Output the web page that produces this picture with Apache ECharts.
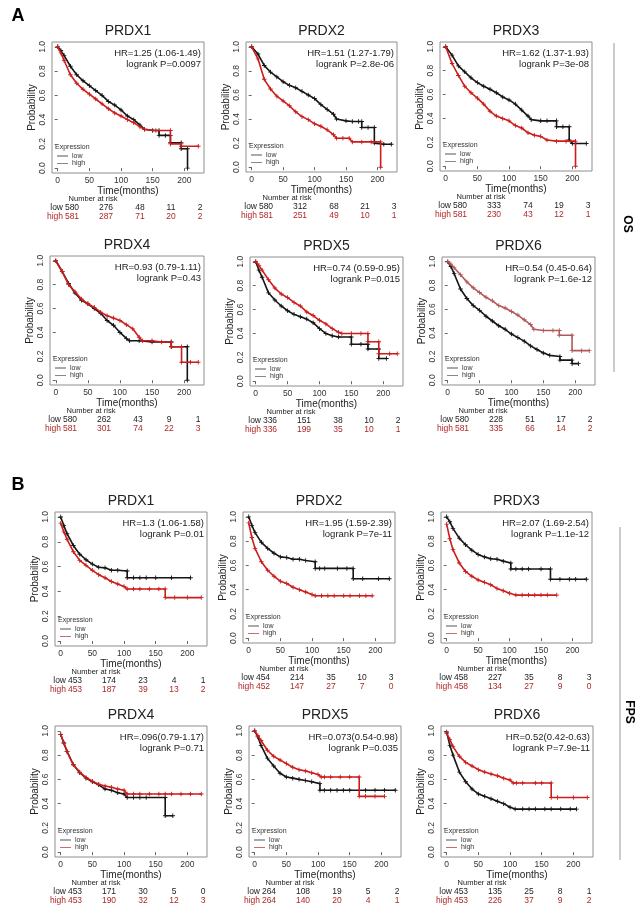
<!DOCTYPE html>
<html>
<head>
<meta charset="utf-8">
<title>PRDX survival</title>
<script src="https://cdn.jsdelivr.net/npm/echarts@6.0.0/dist/echarts.min.js"></script>
<style>
  html, body { margin: 0; padding: 0; background: #fff; }
  #chart { width: 644px; height: 918px; }
</style>
</head>
<body>
<div id="chart"></div>
<script>
// 1. Data
const genes = ['PRDX1', 'PRDX2', 'PRDX3', 'PRDX4', 'PRDX5', 'PRDX6'];
const timeTicks = [0, 50, 100, 150, 200];
const probTicks = [0, 0.2, 0.4, 0.6, 0.8, 1];

const osHR = ['HR=1.25 (1.06-1.49)', 'HR=1.51 (1.27-1.79)', 'HR=1.62 (1.37-1.93)',
              'HR=0.93 (0.79-1.11)', 'HR=0.74 (0.59-0.95)', 'HR=0.54 (0.45-0.64)'];
const osP = ['logrank P=0.0097', 'logrank P=2.8e-06', 'logrank P=3e-08',
             'logrank P=0.43', 'logrank P=0.015', 'logrank P=1.6e-12'];
const fpsHR = ['HR=1.3 (1.06-1.58)', 'HR=1.95 (1.59-2.39)', 'HR=2.07 (1.69-2.54)',
               'HR=.096(0.79-1.17)', 'HR=0.073(0.54-0.98)', 'HR=0.52(0.42-0.63)'];
const fpsP = ['logrank P=0.01', 'logrank P=7e-11', 'logrank P=1.1e-12',
              'logrank P=0.71', 'logrank P=0.035', 'logrank P=7.9e-11'];

// number at risk at 0, 50, 100, 150, 200 months
const osRiskLow = [[580, 276, 48, 11, 2], [580, 312, 68, 21, 3], [580, 333, 74, 19, 3],
                   [580, 262, 43, 9, 1], [336, 151, 38, 10, 2], [580, 228, 51, 17, 2]];
const osRiskHigh = [[581, 287, 71, 20, 2], [581, 251, 49, 10, 1], [581, 230, 43, 12, 1],
                    [581, 301, 74, 22, 3], [336, 199, 35, 10, 1], [581, 335, 66, 14, 2]];
const fpsRiskLow = [[453, 174, 23, 4, 1], [454, 214, 35, 10, 3], [458, 227, 35, 8, 3],
                    [453, 171, 30, 5, 0], [264, 108, 19, 5, 2], [453, 135, 25, 8, 1]];
const fpsRiskHigh = [[453, 187, 39, 13, 2], [452, 147, 27, 7, 0], [458, 134, 27, 9, 0],
                     [453, 190, 32, 12, 3], [264, 140, 20, 4, 1], [453, 226, 37, 9, 2]];

// survival curves [months, probability]
const osLow = [
  [[0,1],[5,0.97],[10,0.93],[20,0.84],[30,0.77],[40,0.72],[50,0.68],[60,0.64],[70,0.60],[80,0.55],[90,0.52],[100,0.48],[110,0.43],[120,0.40],[130,0.355],[137,0.32],[150,0.31],[160,0.31],[160,0.27],[170,0.27],[178,0.27],[178,0.21],[195,0.21],[195,0.16],[205,0.16],[205,0]],
  [[0,1],[10,0.94],[20,0.845],[30,0.79],[40,0.75],[50,0.71],[60,0.68],[70,0.66],[80,0.63],[90,0.60],[100,0.57],[110,0.52],[120,0.48],[130,0.44],[135,0.40],[150,0.385],[160,0.38],[170,0.38],[175,0.38],[175,0.33],[185,0.33],[195,0.33],[195,0.20],[210,0.19],[222,0.19]],
  [[0,1],[10,0.93],[20,0.84],[30,0.79],[40,0.74],[50,0.70],[60,0.67],[70,0.645],[80,0.615],[90,0.58],[100,0.555],[110,0.52],[120,0.47],[130,0.42],[135,0.39],[150,0.38],[160,0.38],[175,0.38],[175,0.33],[185,0.33],[195,0.33],[195,0.22],[200,0.19],[222,0.19]],
  [[0,1],[10,0.91],[20,0.81],[30,0.73],[40,0.67],[50,0.64],[60,0.60],[70,0.56],[80,0.50],[90,0.46],[100,0.40],[110,0.35],[115,0.33],[130,0.33],[150,0.32],[180,0.32],[180,0.28],[205,0.28],[205,0]],
  [[0,1],[5,0.93],[10,0.87],[20,0.74],[30,0.68],[40,0.63],[50,0.59],[60,0.56],[70,0.54],[80,0.52],[90,0.49],[100,0.44],[110,0.40],[120,0.38],[130,0.37],[150,0.37],[150,0.31],[165,0.31],[176,0.31],[176,0.27],[193,0.27],[193,0.19],[205,0.19]],
  [[0,1],[5,0.96],[10,0.90],[20,0.77],[30,0.69],[40,0.63],[50,0.59],[60,0.54],[70,0.50],[80,0.46],[90,0.43],[100,0.39],[110,0.36],[120,0.33],[130,0.29],[140,0.26],[150,0.23],[160,0.21],[176,0.20],[176,0.17],[195,0.17],[195,0.14],[205,0.14]]
];
const osHigh = [
  [[0,1],[5,0.95],[10,0.89],[20,0.77],[30,0.70],[40,0.65],[50,0.61],[60,0.57],[70,0.53],[80,0.49],[90,0.455],[100,0.43],[110,0.40],[120,0.375],[130,0.34],[137,0.32],[155,0.31],[178,0.31],[178,0.20],[195,0.20],[195,0.18],[222,0.18]],
  [[0,1],[10,0.90],[20,0.73],[30,0.65],[40,0.59],[50,0.55],[60,0.51],[70,0.46],[80,0.42],[90,0.395],[100,0.36],[110,0.34],[120,0.31],[130,0.27],[135,0.24],[145,0.24],[155,0.24],[160,0.21],[175,0.21],[190,0.21],[205,0.21],[205,0]],
  [[0,1],[10,0.86],[20,0.76],[30,0.67],[40,0.615],[50,0.57],[60,0.52],[70,0.46],[80,0.42],[90,0.40],[100,0.38],[110,0.34],[120,0.32],[130,0.28],[140,0.26],[150,0.25],[160,0.22],[175,0.21],[190,0.21],[205,0.21],[205,0]],
  [[0,1],[10,0.91],[20,0.80],[30,0.74],[40,0.68],[50,0.64],[60,0.61],[70,0.57],[80,0.54],[90,0.52],[100,0.50],[110,0.465],[120,0.43],[130,0.36],[135,0.33],[150,0.33],[165,0.32],[180,0.32],[180,0.28],[196,0.28],[196,0.15],[210,0.15],[222,0.15]],
  [[0,1],[5,0.97],[10,0.93],[20,0.85],[30,0.78],[40,0.73],[50,0.70],[60,0.66],[70,0.63],[80,0.58],[90,0.55],[100,0.51],[110,0.48],[120,0.44],[130,0.41],[135,0.40],[150,0.40],[165,0.40],[176,0.40],[176,0.33],[193,0.33],[193,0.23],[210,0.23],[222,0.23]],
  [[0,1],[5,0.98],[10,0.95],[20,0.89],[30,0.83],[40,0.78],[50,0.74],[60,0.70],[70,0.67],[80,0.63],[90,0.61],[100,0.58],[110,0.55],[120,0.51],[130,0.47],[135,0.43],[150,0.42],[165,0.42],[175,0.42],[175,0.38],[195,0.38],[195,0.25],[210,0.25],[222,0.25]]
];
const fpsLow = [
  [[0,1],[5,0.93],[10,0.865],[20,0.77],[30,0.70],[40,0.655],[50,0.62],[60,0.595],[70,0.59],[80,0.57],[90,0.57],[105,0.565],[105,0.51],[115,0.51],[125,0.51],[135,0.51],[150,0.51],[175,0.51],[205,0.51]],
  [[0,1],[5,0.93],[10,0.87],[20,0.79],[30,0.74],[40,0.70],[50,0.67],[60,0.665],[70,0.65],[80,0.65],[90,0.64],[105,0.63],[105,0.575],[112,0.575],[120,0.575],[140,0.575],[155,0.575],[165,0.575],[165,0.49],[180,0.49],[205,0.49],[222,0.49]],
  [[0,1],[5,0.96],[10,0.905],[20,0.825],[30,0.77],[40,0.725],[50,0.69],[60,0.67],[70,0.655],[80,0.65],[90,0.635],[102,0.62],[102,0.57],[110,0.57],[120,0.57],[130,0.57],[150,0.57],[165,0.57],[165,0.485],[180,0.485],[195,0.485],[205,0.485],[222,0.485]],
  [[0,0.97],[5,0.90],[10,0.83],[20,0.72],[30,0.655],[40,0.61],[50,0.58],[60,0.555],[70,0.52],[80,0.51],[90,0.49],[100,0.48],[105,0.45],[115,0.45],[125,0.45],[135,0.45],[165,0.45],[165,0.30],[177,0.30]],
  [[0,1],[5,0.95],[10,0.88],[20,0.775],[30,0.71],[40,0.65],[50,0.62],[60,0.61],[70,0.60],[80,0.59],[90,0.58],[103,0.565],[103,0.51],[110,0.51],[120,0.51],[130,0.51],[140,0.51],[150,0.51],[175,0.51],[190,0.51],[205,0.51],[222,0.51]],
  [[0,0.99],[5,0.88],[10,0.80],[20,0.66],[30,0.58],[40,0.52],[50,0.48],[60,0.46],[70,0.44],[80,0.42],[90,0.40],[100,0.37],[108,0.355],[120,0.355],[130,0.355],[140,0.355],[155,0.355],[165,0.355],[180,0.355],[195,0.355],[205,0.355]]
];
const fpsHigh = [
  [[0,0.95],[5,0.88],[10,0.82],[20,0.72],[30,0.65],[40,0.61],[50,0.57],[60,0.535],[70,0.51],[80,0.48],[90,0.46],[100,0.44],[105,0.42],[115,0.42],[125,0.42],[140,0.42],[155,0.42],[165,0.42],[165,0.35],[180,0.35],[200,0.35],[222,0.35]],
  [[0,0.95],[5,0.83],[10,0.74],[20,0.63],[30,0.56],[40,0.51],[50,0.47],[60,0.45],[70,0.42],[80,0.40],[90,0.38],[100,0.36],[105,0.35],[115,0.35],[125,0.35],[135,0.35],[150,0.35],[160,0.35],[175,0.35],[185,0.35],[195,0.35]],
  [[0,0.94],[5,0.82],[10,0.73],[20,0.62],[30,0.55],[40,0.51],[50,0.48],[60,0.46],[70,0.44],[80,0.41],[90,0.39],[100,0.37],[110,0.355],[120,0.355],[130,0.355],[140,0.355],[150,0.355],[160,0.355],[175,0.355]],
  [[0,0.97],[5,0.90],[10,0.83],[20,0.72],[30,0.66],[40,0.615],[50,0.585],[60,0.56],[70,0.545],[80,0.535],[90,0.52],[100,0.51],[105,0.48],[115,0.48],[125,0.48],[140,0.48],[155,0.48],[165,0.48],[175,0.48],[190,0.48],[205,0.48],[222,0.48]],
  [[0,1],[5,0.96],[10,0.92],[20,0.84],[30,0.79],[40,0.76],[50,0.73],[60,0.70],[70,0.68],[80,0.67],[90,0.655],[100,0.64],[105,0.62],[110,0.62],[120,0.62],[135,0.62],[150,0.62],[165,0.62],[165,0.46],[175,0.46],[190,0.46],[205,0.46]],
  [[0,0.98],[5,0.93],[10,0.87],[20,0.79],[30,0.74],[40,0.71],[50,0.68],[60,0.66],[70,0.645],[80,0.63],[90,0.61],[100,0.595],[105,0.57],[110,0.57],[120,0.57],[140,0.57],[150,0.57],[165,0.57],[165,0.45],[175,0.45],[200,0.45],[222,0.45]]
];

// 2. Layout (plot boxes in px: left, top, right, bottom)
const boxes = [
  [52, 42, 204, 173], [246, 42, 397, 172], [440, 42, 592, 171],
  [50, 256, 204, 385], [250, 257, 403, 386], [442, 257, 595, 385],
  [55, 512, 207, 646], [243, 512, 395, 643], [441, 512, 592, 643],
  [55, 726, 207, 857], [249, 726, 401, 857], [441, 726, 593, 857]
];
const riskCols = [20, 54, 88, 119, 148];
const FONT = '"Liberation Sans", Arial, sans-serif';
const LOW_COLOR = '#151515';
const HIGH_COLOR = '#cc1c1c';
const TEXT = '#222';
const RISK_RED = '#b02828';
const PLUS = 'path://M0,4H10V6H0Z M4,0H6V10H4Z';

function txt(x, y, text, size, opt) {
  opt = opt || {};
  return {
    type: 'text', x: x, y: y, rotation: opt.rotation || 0, silent: true,
    style: {
      text: text, fill: opt.color || TEXT, fontSize: size, fontFamily: FONT,
      fontWeight: opt.weight || 'normal',
      align: opt.align || 'center', textAlign: opt.align || 'center',
      verticalAlign: 'middle', textVerticalAlign: 'middle'
    }
  };
}
function seg(x1, y1, x2, y2, color, width) {
  return { type: 'line', silent: true, shape: { x1: x1, y1: y1, x2: x2, y2: y2 },
           style: { stroke: color, lineWidth: width || 1 } };
}

const grids = [], xAxes = [], yAxes = [], series = [], graphics = [];

for (let i = 0; i < 12; i++) {
  const isOS = i < 6, k = i % 6;
  const [L, T, R, B] = boxes[i];
  const highColor = (isOS && k === 5) ? '#b35858' : HIGH_COLOR;

  grids.push({ left: L, top: T, width: R - L, height: B - T, show: true,
               borderColor: '#8e8e8e', borderWidth: 1, outerBoundsMode: 'none', containLabel: false });

  xAxes.push({
    gridIndex: i, type: 'value', min: -9, max: 231,
    name: 'Time(months)', nameLocation: 'middle', nameGap: 13,
    nameTextStyle: { fontSize: 10, color: TEXT, fontFamily: FONT },
    axisLine: { show: false }, splitLine: { show: false },
    axisTick: { show: true, length: 3, customValues: timeTicks, lineStyle: { color: '#666' } },
    axisLabel: { customValues: timeTicks, fontSize: 8.5, color: '#333', margin: 3, fontFamily: FONT }
  });
  yAxes.push({
    gridIndex: i, type: 'value', min: -0.04, max: 1.04,
    name: 'Probability', nameLocation: 'middle', nameGap: 14, nameRotate: 90,
    nameTextStyle: { fontSize: 10, color: TEXT, fontFamily: FONT },
    axisLine: { show: false }, splitLine: { show: false },
    axisTick: { show: true, length: 3, customValues: probTicks, lineStyle: { color: '#666' } },
    axisLabel: { customValues: probTicks, rotate: 90, fontSize: 8.5, color: '#333', margin: 5,
                 fontFamily: FONT, formatter: v => v.toFixed(1) }
  });

  const lowData = isOS ? osLow[k] : fpsLow[k];
  const highData = isOS ? osHigh[k] : fpsHigh[k];
  [['low', lowData, LOW_COLOR], ['high', highData, highColor]].forEach(([name, data, color], j) => {
    series.push({
      type: 'line', name: name, xAxisIndex: i, yAxisIndex: i, data: data,
      symbol: PLUS, symbolSize: 4.5, showAllSymbol: true,
      lineStyle: { color: color, width: 1.6 }, itemStyle: { color: color },
      animation: false, silent: true, z: 2 + j
    });
  });

  // title, HR and logrank text
  graphics.push(txt((L + R) / 2, T - 11, genes[k], 14));
  graphics.push(txt(R - 3, T + 11, isOS ? osHR[k] : fpsHR[k], 9.5, { align: 'right' }));
  graphics.push(txt(R - 3, T + 22.5, isOS ? osP[k] : fpsP[k], 9.5, { align: 'right' }));

  // legend
  graphics.push(txt(L + 3, B - 26, 'Expression', 7, { align: 'left', color: '#333' }));
  graphics.push(seg(L + 5, B - 17, L + 16, B - 17, '#555', 1));
  graphics.push(txt(L + 20, B - 17, 'low', 7, { align: 'left', color: '#333' }));
  graphics.push(seg(L + 5, B - 9.5, L + 16, B - 9.5, isOS ? '#888' : '#cf6a6a', 1));
  graphics.push(txt(L + 20, B - 9.5, 'high', 7, { align: 'left', color: '#333' }));

  // number at risk table
  const rl = isOS ? osRiskLow[k] : fpsRiskLow[k];
  const rh = isOS ? osRiskHigh[k] : fpsRiskHigh[k];
  graphics.push(txt(L + 41, B + 26, 'Number at risk', 7.5));
  graphics.push(txt(L + 11, B + 35, 'low', 8.5, { align: 'right' }));
  graphics.push(txt(L + 11, B + 44, 'high', 8.5, { align: 'right', color: RISK_RED }));
  for (let c = 0; c < 5; c++) {
    graphics.push(txt(L + riskCols[c], B + 35, String(rl[c]), 8.5));
    graphics.push(txt(L + riskCols[c], B + 44, String(rh[c]), 8.5, { color: RISK_RED }));
  }
}

// panel letters and side labels
graphics.push(txt(18, 16, 'A', 18, { weight: 'bold', color: '#000' }));
graphics.push(txt(18, 485, 'B', 18, { weight: 'bold', color: '#000' }));
graphics.push(seg(614, 43, 614, 372, '#999', 1));
graphics.push(txt(627, 224, 'OS', 12, { weight: 'bold', color: '#000', rotation: -Math.PI / 2 }));
graphics.push(seg(620, 527, 620, 860, '#999', 1));
graphics.push(txt(629, 712, 'FPS', 12, { weight: 'bold', color: '#000', rotation: -Math.PI / 2 }));

// 3. Render
const chart = echarts.init(document.getElementById('chart'));
chart.setOption({
  backgroundColor: '#fff',
  animation: false,
  textStyle: { fontFamily: FONT },
  grid: grids,
  xAxis: xAxes,
  yAxis: yAxes,
  series: series,
  graphic: { elements: graphics }
});
</script>
</body>
</html>
